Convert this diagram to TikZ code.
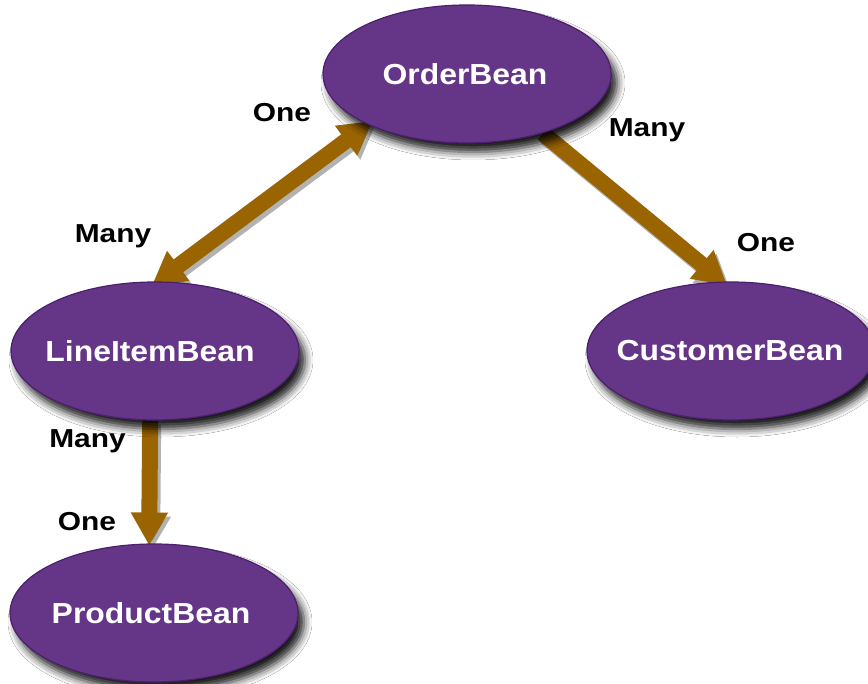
\documentclass[tikz,border=0pt]{standalone}
\usepackage{fontspec}
\newfontfamily\elfont[FakeStretch=1.1]{Liberation Sans}
\newfontfamily\lbfont[FakeStretch=1.15]{Liberation Sans}
\usetikzlibrary{shapes.geometric,arrows.meta,shadows.blur,backgrounds}
\definecolor{beanfill}{HTML}{653587}
\definecolor{beanedge}{HTML}{4B1F6E}
\definecolor{arrbrown}{HTML}{9A6400}
\tikzset{
  bean/.style={ellipse, minimum width=288pt, minimum height=138pt, inner sep=0pt,
    fill=beanfill, draw=beanedge, line width=1.2pt,
    text=white, font=\elfont\bfseries\fontsize{29}{32}\selectfont,
    blur shadow={shadow xshift=6pt, shadow yshift=-9pt, shadow blur radius=8pt, shadow opacity=90}},
  lab/.style={anchor=base, text=black, font=\lbfont\bfseries\fontsize{26}{30}\selectfont},
  tipA/.tip={Triangle[width=35pt,length=33pt]},
  arr/.style={draw=arrbrown, line width=16pt},
  arrshade/.style={draw=black, opacity=0.3, line width=16pt, transform canvas={shift={(3pt,-4pt)}}}
}
\newcommand\beanname[3]{\makebox[0pt]{\hspace*{#1}\raisebox{#2}{#3}}}
\begin{document}
\begin{tikzpicture}[x=1pt,y=-1pt]
\useasboundingbox (0,0) rectangle (868,684);

% ellipses with their names
\node[bean] (ob) at (467,74) {\beanname{-4pt}{-1pt}{OrderBean}};
\node[bean] (li) at (155,351) {\beanname{-10pt}{1pt}{LineItemBean}};
\node[bean] (cb) at (731,351) {\beanname{-2pt}{0pt}{CustomerBean}};
\node[bean] (pb) at (154,613) {\beanname{-6pt}{-1pt}{ProductBean}};

% arrows behind ellipses
\begin{pgfonlayer}{background}
\fill[white] (0,0) rectangle (868,684);
\draw[arrshade, tipA-tipA, shorten <=-7pt, shorten >=-6pt] (li.88) -- (ob.207);
\draw[arrshade, -tipA, shorten >=-6pt] (ob.-38) -- (cb.97);
\draw[arrshade, -tipA, shorten >=-2pt] (li.266) -- (pb.94);
\draw[arr, tipA-tipA, shorten <=-7pt, shorten >=-6pt] (li.88) -- (ob.207);
\draw[arr, -tipA, shorten >=-6pt] (ob.-38) -- (cb.97);
\draw[arr, -tipA, shorten >=-2pt] (li.266) -- (pb.94);
\end{pgfonlayer}

% labels
\node[lab] (l1) at (282,122) {One};
\node[lab] (l2) at (647,137) {Many};
\node[lab] (l3) at (113,243) {Many};
\node[lab] (l4) at (766,252) {One};
\node[lab] (l5) at (87.5,448) {Many};
\node[lab] (l6) at (87,530) {One};
\end{tikzpicture}
\end{document}
